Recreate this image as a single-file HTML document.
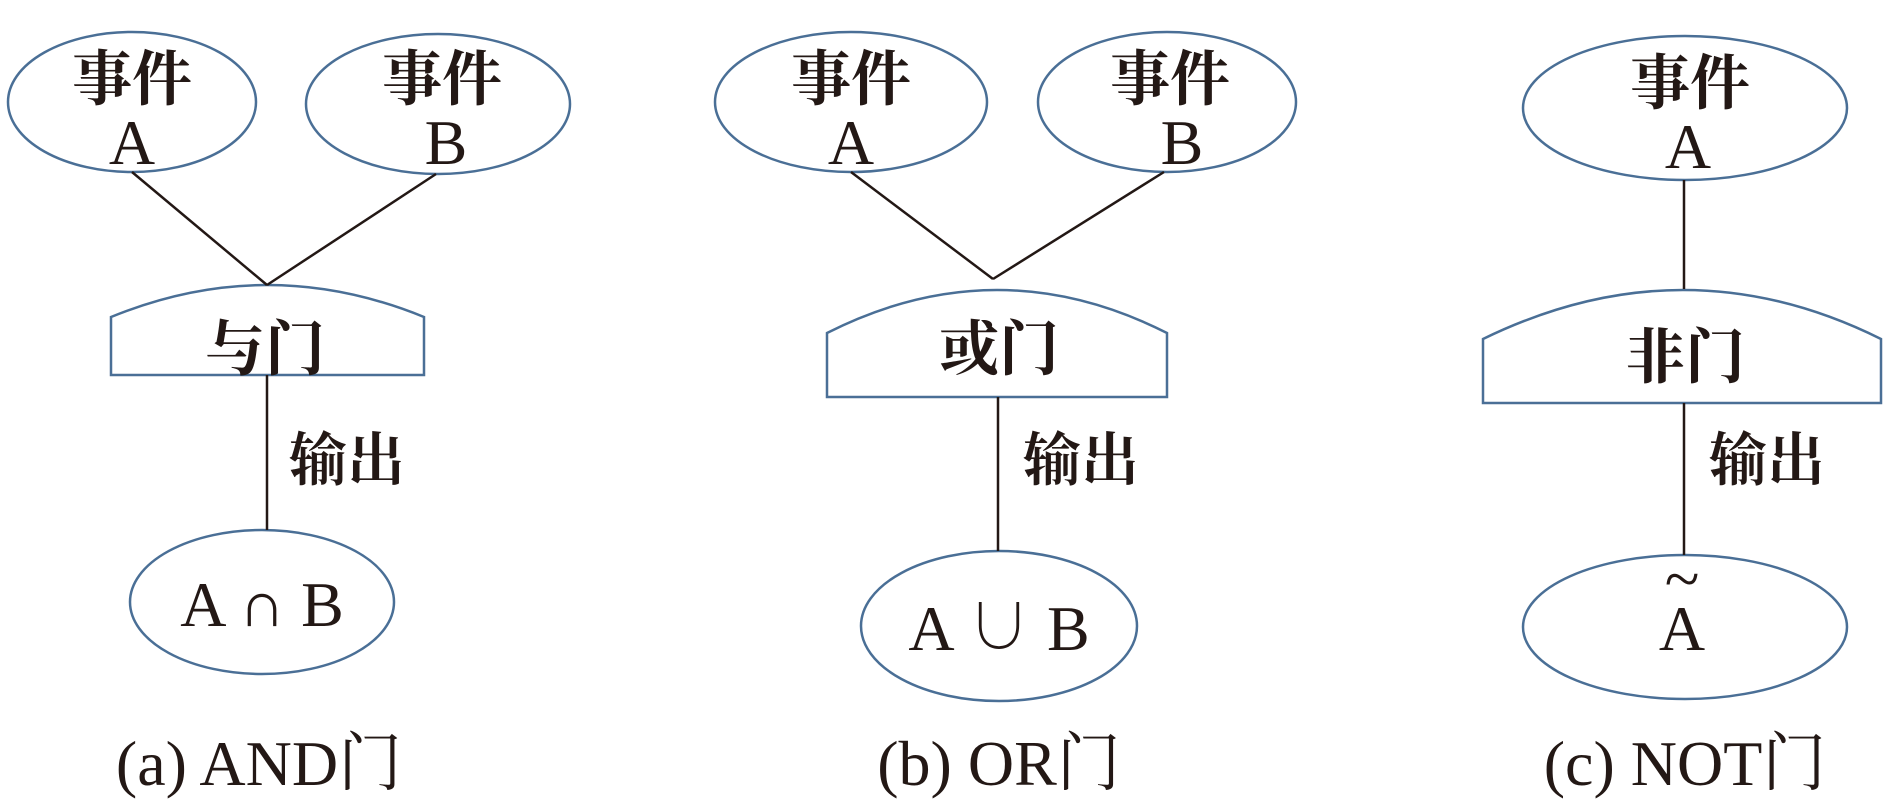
<!DOCTYPE html>
<html><head><meta charset="utf-8"><style>
html,body{margin:0;padding:0;background:#fff;width:1887px;height:804px;overflow:hidden}
svg text{font-family:"Liberation Serif","Noto Serif CJK SC",serif;fill:#231815}
.cj{font-family:"Noto Serif CJK SC","Noto Sans CJK SC",serif;font-weight:700}
</style></head><body>
<svg width="1887" height="804" viewBox="0 0 1887 804">
<g fill="#fff" stroke="#4a6f96" stroke-width="2.5">
<ellipse cx="132" cy="102" rx="124" ry="70"/>
<ellipse cx="438" cy="104" rx="132" ry="70"/>
<path d="M111,375 L111,317 Q267,253 424,317 L424,375 Z"/>
<ellipse cx="262" cy="602" rx="132" ry="72"/>
<ellipse cx="851" cy="102" rx="136" ry="70"/>
<ellipse cx="1167" cy="102" rx="129" ry="70"/>
<path d="M827,397 L827,333 Q997,247 1167,333 L1167,397 Z"/>
<ellipse cx="999" cy="626" rx="138" ry="75"/>
<ellipse cx="1685" cy="108" rx="162" ry="72"/>
<path d="M1483,403 L1483,339 Q1684,241 1881,339 L1881,403 Z"/>
<ellipse cx="1685" cy="627" rx="162" ry="72"/>
</g>
<g stroke="#231815" stroke-width="2.5">
<line x1="132" y1="172" x2="267" y2="285"/><line x1="436" y1="174" x2="267" y2="285"/>
<line x1="267" y1="375" x2="267" y2="530"/>
<line x1="851" y1="172" x2="993" y2="279"/><line x1="1164" y1="172" x2="993" y2="279"/>
<line x1="998" y1="397" x2="998" y2="551"/>
<line x1="1684" y1="180" x2="1684" y2="289"/>
<line x1="1684" y1="403" x2="1684" y2="555"/>
</g>
<g text-anchor="middle" font-size="64">
<text class="cj" x="132" y="100" font-size="60">事件</text><text x="132" y="164">A</text>
<text class="cj" x="442" y="100" font-size="60">事件</text><text x="446" y="164">B</text>
<text class="cj" x="265" y="370" font-size="60">与门</text>
<text x="262" y="626">A ∩ B</text>
<text x="259" y="785">(a) AND门</text>
<text class="cj" x="851" y="100" font-size="60">事件</text><text x="851" y="164">A</text>
<text class="cj" x="1170" y="100" font-size="60">事件</text><text x="1182" y="164">B</text>
<text class="cj" x="999" y="370" font-size="60">或门</text>
<text x="999" y="650">A ∪ B</text>
<text x="999" y="785">(b) OR门</text>
<text class="cj" x="1690" y="104" font-size="60">事件</text><text x="1688" y="168">A</text>
<text class="cj" x="1685" y="378" font-size="60">非门</text>
<text x="1682" y="650">A</text><text x="1682" y="600">~</text>
<text x="1685" y="785">(c) NOT门</text>
</g>
<g font-size="58">
<text class="cj" x="289" y="480">输出</text>
<text class="cj" x="1023" y="480">输出</text>
<text class="cj" x="1709" y="480">输出</text>
</g>
</svg>
</body></html>
